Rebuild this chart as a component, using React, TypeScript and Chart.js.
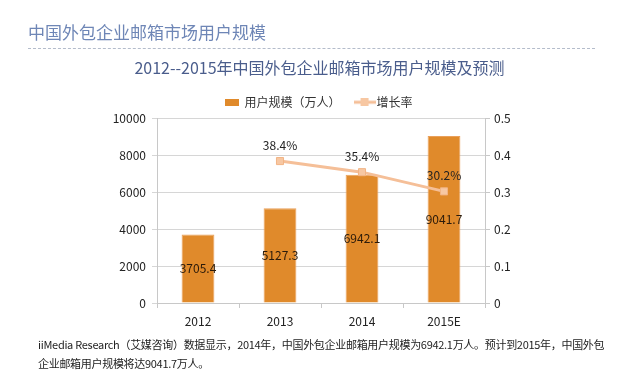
import React, { useEffect, useRef } from "react";
import { Chart, registerables } from "chart.js";

Chart.register(...registerables);

const categories = ["2012", "2013", "2014", "2015E"];
const users = [3705.4, 5127.3, 6942.1, 9041.7];
const growth = [null, 0.384, 0.354, 0.302];
const growthLabels = ["", "38.4%", "35.4%", "30.2%"];
const userLabels = ["3705.4", "5127.3", "6942.1", "9041.7"];

const headerText = "中国外包企业邮箱市场用户规模";
const chartTitle = "2012--2015年中国外包企业邮箱市场用户规模及预测";
const footerLine1 = "iiMedia Research（艾媒咨询）数据显示，2014年，中国外包企业邮箱用户规模为6942.1万人。预计到2015年，中国外包";
const footerLine2 = "企业邮箱用户规模将达9041.7万人。";

const FONT = "'Noto Sans CJK SC', 'Noto Sans', sans-serif";
const BAR_COLOR = "#E08A2B";
const LINE_COLOR = "#F5BF98";

function makeBarIcon() {
  const c = document.createElement("canvas");
  c.width = 14;
  c.height = 7;
  const ctx = c.getContext("2d")!;
  ctx.fillStyle = BAR_COLOR;
  ctx.fillRect(0, 0, 14, 7);
  return c;
}

function makeLineIcon() {
  const c = document.createElement("canvas");
  c.width = 22;
  c.height = 8;
  const ctx = c.getContext("2d")!;
  ctx.strokeStyle = LINE_COLOR;
  ctx.lineWidth = 3;
  ctx.beginPath();
  ctx.moveTo(0, 4);
  ctx.lineTo(22, 4);
  ctx.stroke();
  ctx.fillStyle = "#F7C7A2";
  ctx.fillRect(7, 0, 8, 8);
  return c;
}

const labelPlugin = {
  id: "valueLabels",
  afterDatasetsDraw(chart: any) {
    const ctx = chart.ctx;
    ctx.save();
    ctx.font = `12px ${FONT}`;
    ctx.textAlign = "center";
    ctx.textBaseline = "middle";
    const barMeta = chart.getDatasetMeta(0);
    barMeta.data.forEach((el: any, i: number) => {
      const mid = (el.y + el.base) / 2;
      ctx.fillStyle = "#2a1a0a";
      ctx.fillText(userLabels[i], el.x, mid);
    });
    const lineMeta = chart.getDatasetMeta(1);
    lineMeta.data.forEach((el: any, i: number) => {
      if (growth[i] == null) return;
      ctx.fillStyle = "#222";
      ctx.fillText(growthLabels[i], el.x, el.y - 16);
    });
    ctx.restore();
  },
};

export default function App() {
  const ref = useRef<HTMLCanvasElement | null>(null);

  useEffect(() => {
    document.body.style.margin = "0";
    const chart = new Chart(ref.current!, {
      type: "bar",
      data: {
        labels: categories,
        datasets: [
          {
            type: "bar",
            label: "用户规模（万人）",
            data: users,
            backgroundColor: BAR_COLOR,
            borderColor: "#EAA05A",
            borderWidth: 1,
            barPercentage: 0.4,
            categoryPercentage: 1,
            yAxisID: "y",
            order: 2,
          } as any,
          {
            type: "line",
            label: "增长率",
            data: growth,
            borderColor: LINE_COLOR,
            borderWidth: 3,
            pointStyle: "rect",
            pointRadius: 5,
            pointBackgroundColor: "#F7C7A2",
            pointBorderColor: "#F2B485",
            pointBorderWidth: 1,
            yAxisID: "y1",
            order: 1,
          } as any,
        ],
      },
      options: {
        animation: false,
        responsive: false,
        maintainAspectRatio: false,
        layout: { padding: { top: 0, left: 0, right: 0, bottom: 0 } },
        plugins: {
          title: {
            display: true,
            text: chartTitle,
            color: "#4A5D8C",
            font: { family: FONT, size: 16, weight: "normal" },
            padding: { top: 58, bottom: 1 },
          },
          legend: {
            display: true,
            labels: {
              color: "#333",
              font: { family: FONT, size: 12 },
              usePointStyle: true,
              padding: 18,
              generateLabels: () => [
                { text: "用户规模（万人）", pointStyle: makeBarIcon(), datasetIndex: 0, fontColor: "#333", lineWidth: 0, strokeStyle: "rgba(0,0,0,0)", fillStyle: BAR_COLOR, hidden: false } as any,
                { text: "增长率", pointStyle: makeLineIcon(), datasetIndex: 1, fontColor: "#333", lineWidth: 0, strokeStyle: "rgba(0,0,0,0)", fillStyle: LINE_COLOR, hidden: false } as any,
              ],
            },
          },
          tooltip: { enabled: false },
        },
        scales: {
          x: {
            grid: { display: true, drawOnChartArea: false, offset: true, color: "#C8C8C8", tickLength: 5 },
            border: { color: "#C8C8C8" },
            ticks: { color: "#222", font: { family: FONT, size: 12 }, padding: 6 },
            afterFit: (s: any) => { s.height = 78; },
          },
          y: {
            position: "left",
            min: 0,
            max: 10000,
            ticks: { stepSize: 2000, color: "#222", font: { family: FONT, size: 12 }, padding: 6, callback: (v: any) => String(v) },
            grid: { color: "#D6D6D6", tickLength: 5 },
            border: { color: "#C8C8C8" },
            afterFit: (s: any) => { s.width = 157; },
          },
          y1: {
            position: "right",
            min: 0,
            max: 0.5,
            ticks: { stepSize: 0.1, color: "#222", font: { family: FONT, size: 12 }, padding: 4, callback: (v: any) => String(Math.round(v * 10) / 10) },
            grid: { drawOnChartArea: false, color: "#C8C8C8", tickLength: 5 },
            border: { color: "#C8C8C8" },
            afterFit: (s: any) => { s.width = 154; },
          },
        },
      },
      plugins: [labelPlugin],
    });
    return () => chart.destroy();
  }, []);

  return (
    <div style={{ position: "relative", width: 639, height: 381, background: "#fff", overflow: "hidden" }}>
      <canvas ref={ref} width={639} height={381} style={{ position: "absolute", left: 0, top: 0 }} />
      <div style={{ position: "absolute", left: 28, top: 20, fontFamily: FONT, fontSize: 17, color: "#6E86B6", lineHeight: "24px", whiteSpace: "nowrap" }}>
        {headerText}
      </div>
      <div style={{ position: "absolute", left: 28, top: 48, width: 567, borderTop: "1px dashed #B4BCCB" }} />
      <div style={{ position: "absolute", left: 38, top: 335, fontFamily: FONT, fontSize: 11, letterSpacing: "-0.3px", color: "#222", lineHeight: "19px", whiteSpace: "nowrap" }}>
        {footerLine1}
        <br />
        {footerLine2}
      </div>
    </div>
  );
}
